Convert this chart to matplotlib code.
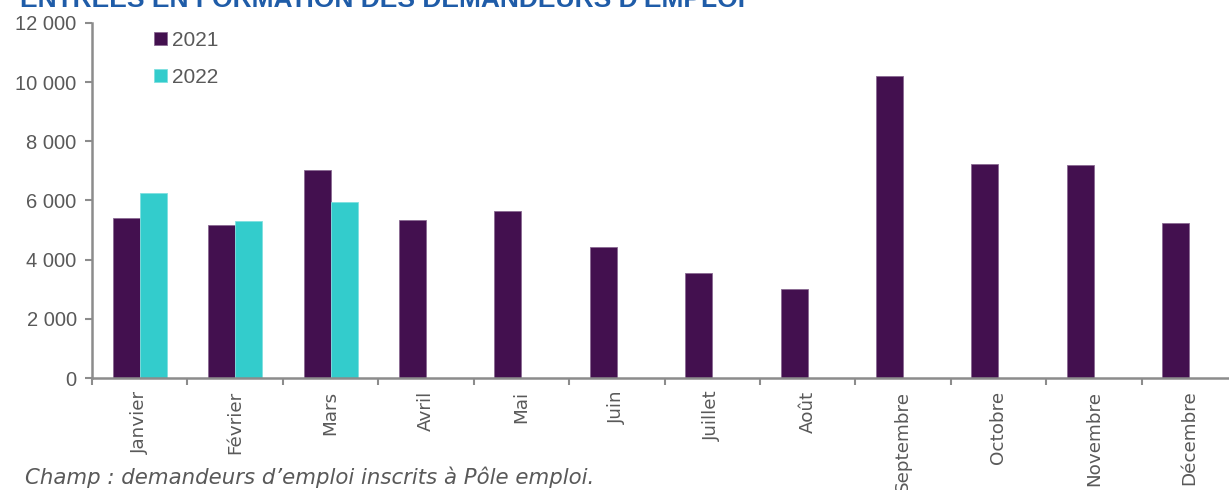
import matplotlib
matplotlib.use("Agg")
import matplotlib.pyplot as plt
import numpy as np

months = ["Janvier", "Février", "Mars", "Avril", "Mai", "Juin", "Juillet",
          "Août", "Septembre", "Octobre", "Novembre", "Décembre"]
v2021 = [5400, 5170, 7030, 5340, 5650, 4430, 3550, 3010, 10200, 7230, 7200, 5230]
v2022 = [6250, 5300, 5950]
yticks = [0, 2000, 4000, 6000, 8000, 10000, 12000]
ytick_labels = ["0", "2 000", "4 000", "6 000", "8 000", "10 000", "12 000"]
title = "ENTRÉES EN FORMATION DES DEMANDEURS D'EMPLOI"
caption = "Champ : demandeurs d’emploi inscrits à Pôle emploi."

c2021 = "#43104F"
c2022 = "#33CCCC"
grey = "#595959"
axis_grey = "#8C8C8C"

fig = plt.figure(figsize=(12.29, 4.90), dpi=100)
ax = fig.add_axes([92/1229, 1-378/490, 1145/1229, 355/490])

x = np.arange(len(months))
w = 0.283
ax.bar(x - w/2, v2021, width=w, color=c2021, edgecolor="#8a6a92", linewidth=0.6, label="2021")
ax.bar(x[:len(v2022)] + w/2, v2022, width=w, color=c2022, edgecolor="#7fe0e0", linewidth=0.6, label="2022")

ax.set_xlim(-0.5, len(months) - 0.5)
ax.set_ylim(0, 12000)
ax.set_yticks(yticks)
ax.set_yticklabels(ytick_labels, fontfamily="Liberation Sans", fontsize=14.5, color=grey)
ax.set_xticks(x)
ax.set_xticklabels(months, rotation=90, fontfamily="DejaVu Sans", fontsize=13.2, color=grey, va="top")
ax.set_xticks(np.arange(-0.5, len(months), 1), minor=True)
ax.tick_params(axis="x", which="major", length=0, pad=9)
ax.tick_params(axis="x", which="minor", length=5, width=1.5, color=axis_grey, direction="out")
ax.tick_params(axis="y", length=5, width=1.5, color=axis_grey, direction="out", pad=6)

for s in ["top", "right"]:
    ax.spines[s].set_visible(False)
for s in ["left", "bottom"]:
    ax.spines[s].set_color(axis_grey)
    ax.spines[s].set_linewidth(1.8)

leg = ax.legend(loc="upper left", bbox_to_anchor=(0.038, 1.03), frameon=False,
                handlelength=0.6, handleheight=0.6, handletextpad=0.25, labelspacing=0.85,
                prop={"family": "Liberation Sans", "size": 15})
for t in leg.get_texts():
    t.set_color(grey)

fig.text(20/1229, 1 - 7/490, title, fontfamily="Liberation Sans", fontweight="bold",
         fontsize=19, color="#1F5CA8", ha="left", va="baseline")
fig.text(25/1229, 1 - 477/490, caption, fontfamily="DejaVu Sans", style="italic",
         fontsize=15.3, color=grey, ha="left", va="center")

fig.savefig("out.png", dpi=100)
